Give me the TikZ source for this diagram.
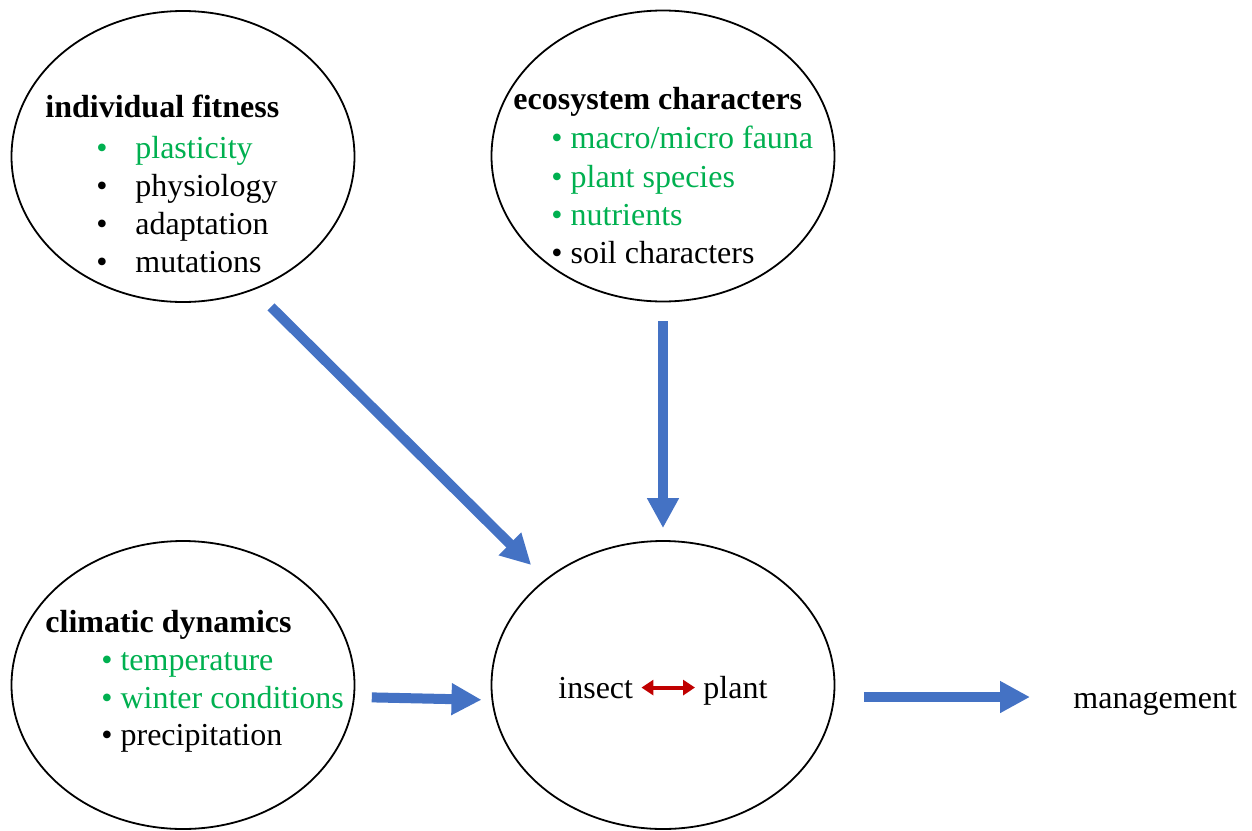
\documentclass[tikz,border=0pt]{standalone}
\usepackage{fontspec}
\setmainfont{Liberation Serif}
\usetikzlibrary{arrows.meta, positioning, shapes.geometric}
\definecolor{inblue}{HTML}{4472C4}
\definecolor{ingreen}{HTML}{00B050}
\definecolor{inred}{HTML}{C00000}

\begin{document}
\begin{tikzpicture}[x=0.5pt, y=-0.5pt, every node/.style={font=\fontsize{16}{19}\selectfont},
  oval/.style={ellipse, draw, line width=0.9pt, minimum width=171.5pt, minimum height=145.5pt, inner sep=0pt},
  ttl/.style={anchor=base west, inner sep=0pt, font=\fontsize{16}{19}\selectfont\bfseries},
  entry/.style={anchor=base west, inner sep=0pt},
  flow/.style={-{Triangle[length=15pt, width=15pt]}, inblue, line width=5pt},
]
\useasboundingbox (0,0) rectangle (1252,830);
% ovals
\node[oval] (fit) at (183,156.5) {};
\node[oval] (eco) at (663,156) {};
\node[oval, minimum height=144pt] (clim) at (183,685) {};
\node[oval, minimum height=144pt] (ins) at (663,685) {};
% individual fitness
\node[ttl] (fitT) at (45,117) {individual fitness};
\node[entry, text=ingreen] (fit1) at (96,158) {\makebox[19.5pt][l]{\textbullet}plasticity};
\node[entry] (fit2) at (96,196) {\makebox[19.5pt][l]{\textbullet}physiology};
\node[entry] (fit3) at (96,234) {\makebox[19.5pt][l]{\textbullet}adaptation};
\node[entry] (fit4) at (96,272) {\makebox[19.5pt][l]{\textbullet}mutations};
% ecosystem characters
\node[ttl] (ecoT) at (513,109) {ecosystem characters};
\node[entry, text=ingreen] (eco1) at (551,148) {\textbullet\ macro/micro fauna};
\node[entry, text=ingreen] (eco2) at (551,187) {\textbullet\ plant species};
\node[entry, text=ingreen] (eco3) at (551,225) {\textbullet\ nutrients};
\node[entry] (eco4) at (551,263) {\textbullet\ soil characters};
% climatic dynamics
\node[ttl] (climT) at (45,632) {climatic dynamics};
\node[entry, text=ingreen] (clim1) at (101,670) {\textbullet\ temperature};
\node[entry, text=ingreen] (clim2) at (101,708) {\textbullet\ winter conditions};
\node[entry] (clim3) at (101,745) {\textbullet\ precipitation};
% centre and output
\node[anchor=base west, inner sep=4pt] (insect) at (550,698) {insect};
\node[anchor=base west, inner sep=4pt] (plant) at (695,698) {plant};
\node[entry] (mgmt) at (1073,708) {management};
\draw[{Triangle[length=6pt, width=7.5pt]}-{Triangle[length=6pt, width=7.5pt]}, inred, line width=2pt] (insect.east) -- (insect.east -| plant.west);
% arrows
\draw[flow, shorten <=12pt, shorten >=10pt] (fit.-62) -- (ins.138);
\draw[flow, shorten <=9.5pt, shorten >=6pt] (eco.south) -- (ins.north);
\draw[flow, shorten <=8.5pt, shorten >=5pt] (clim.-4) -- (ins.185);
\draw[flow, shorten <=14.5pt, shorten >=21.5pt] (ins.-4) -- (ins.-4 -| mgmt.west);
\end{tikzpicture}
\end{document}
